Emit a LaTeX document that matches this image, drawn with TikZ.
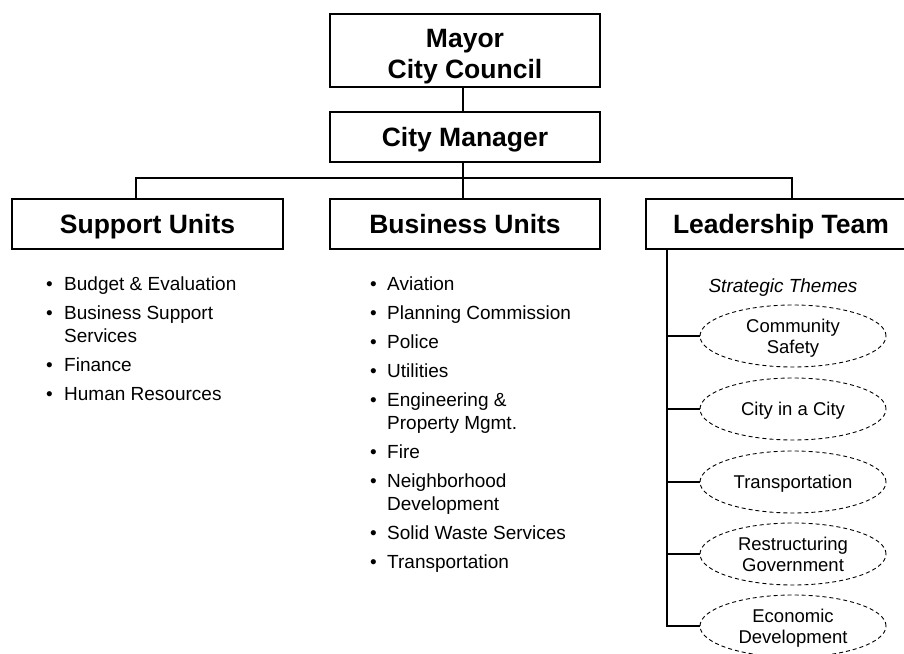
\documentclass[tikz,border=0pt]{standalone}
\usepackage{fontspec}
\setmainfont{Liberation Sans}
\usetikzlibrary{shapes.geometric}
\begin{document}
\begin{tikzpicture}[x=1pt,y=-1pt,
 box/.style={draw, line width=1.3pt, minimum width=270pt, inner sep=0pt, align=center,
   text height=19pt, text depth=0pt,
   font=\fontsize{26.5}{31}\selectfont\bfseries},
 link/.style={line width=1.3pt},
 theme/.style={ellipse, draw, dash pattern=on 4pt off 3pt, line width=0.9pt,
   minimum width=186pt, minimum height=62pt, inner sep=0pt, align=center,
   text height=13.5pt, text depth=0pt,
   font=\fontsize{18.5}{20.5}\selectfont},
 theme2/.style={theme, text height=34pt, text depth=0pt},
 itm/.style={anchor=base west, inner sep=0pt, font=\fontsize{19}{22}\selectfont},
 bul/.style={anchor=base west, inner sep=0pt, font=\fontsize{19}{22}\selectfont},
]
\useasboundingbox (0,0) rectangle (904,653);
% boxes
\node[box, minimum height=73pt, text height=55pt, text depth=0pt] (mayor) at (465,50.5) {Mayor\\City Council};
\node[box, minimum height=50pt] (mgr) at (465,137) {City Manager};
\node[box, minimum height=50pt, minimum width=271pt] (sup) at (147.5,224) {Support Units};
\node[box, minimum height=50pt] (bus) at (465,224) {Business Units};
\node[box, minimum height=50pt] (lead) at (781,224) {Leadership Team};
% connectors
\coordinate (tx) at (463,178);
\coordinate (bl) at (136,178);
\coordinate (br) at (792,178);
\draw[link] (mayor.south -| tx) -- (mgr.north -| tx);
\draw[link] (mgr.south -| tx) -- (bus.north -| tx);
\draw[link] (sup.north -| bl) -- (bl) -- (br) -- (lead.north -| br);
% support list
\node[bul] (sb1) at (46,290) {•}; \node[itm] (s1) at (64,290) {Budget \& Evaluation};
\node[bul] (sb2) at (46,319) {•}; \node[itm] (s2) at (64,319) {Business Support};
\node[itm] (s2b) at (64,342) {Services};
\node[bul] (sb3) at (46,371) {•}; \node[itm] (s3) at (64,371) {Finance};
\node[bul] (sb4) at (46,400) {•}; \node[itm] (s4) at (64,400) {Human Resources};
% business list
\node[bul] (bb1) at (370,290) {•}; \node[itm] (b1) at (387,290) {Aviation};
\node[bul] (bb2) at (370,319) {•}; \node[itm] (b2) at (387,319) {Planning Commission};
\node[bul] (bb3) at (370,348) {•}; \node[itm] (b3) at (387,348) {Police};
\node[bul] (bb4) at (370,377) {•}; \node[itm] (b4) at (387,377) {Utilities};
\node[bul] (bb5) at (370,406) {•}; \node[itm] (b5) at (387,406) {Engineering \&};
\node[itm] (b5b) at (387,429) {Property Mgmt.};
\node[bul] (bb6) at (370,458) {•}; \node[itm] (b6) at (387,458) {Fire};
\node[bul] (bb7) at (370,487) {•}; \node[itm] (b7) at (387,487) {Neighborhood};
\node[itm] (b7b) at (387,510) {Development};
\node[bul] (bb8) at (370,539) {•}; \node[itm] (b8) at (387,539) {Solid Waste Services};
\node[bul] (bb9) at (370,568) {•}; \node[itm] (b9) at (387,568) {Transportation};
% leadership themes
\node[itm, anchor=base, font=\fontsize{19}{22}\selectfont\itshape] (st) at (783,292) {Strategic Themes};
\node[theme2] (t1) at (793,336) {Community\\Safety};
\node[theme] (t2) at (793,409) {City in a City};
\node[theme] (t3) at (793,482) {Transportation};
\node[theme2] (t4) at (793,554) {Restructuring\\Government};
\node[theme2] (t5) at (793,626) {Economic\\Development};
\coordinate (sp) at (667,626);
\draw[link] (lead.south -| sp) -- (t5.west -| sp) -- (t5.west);
\foreach \t in {t1,t2,t3,t4} \draw[link] (\t.west -| sp) -- (\t.west);
\end{tikzpicture}
\end{document}
